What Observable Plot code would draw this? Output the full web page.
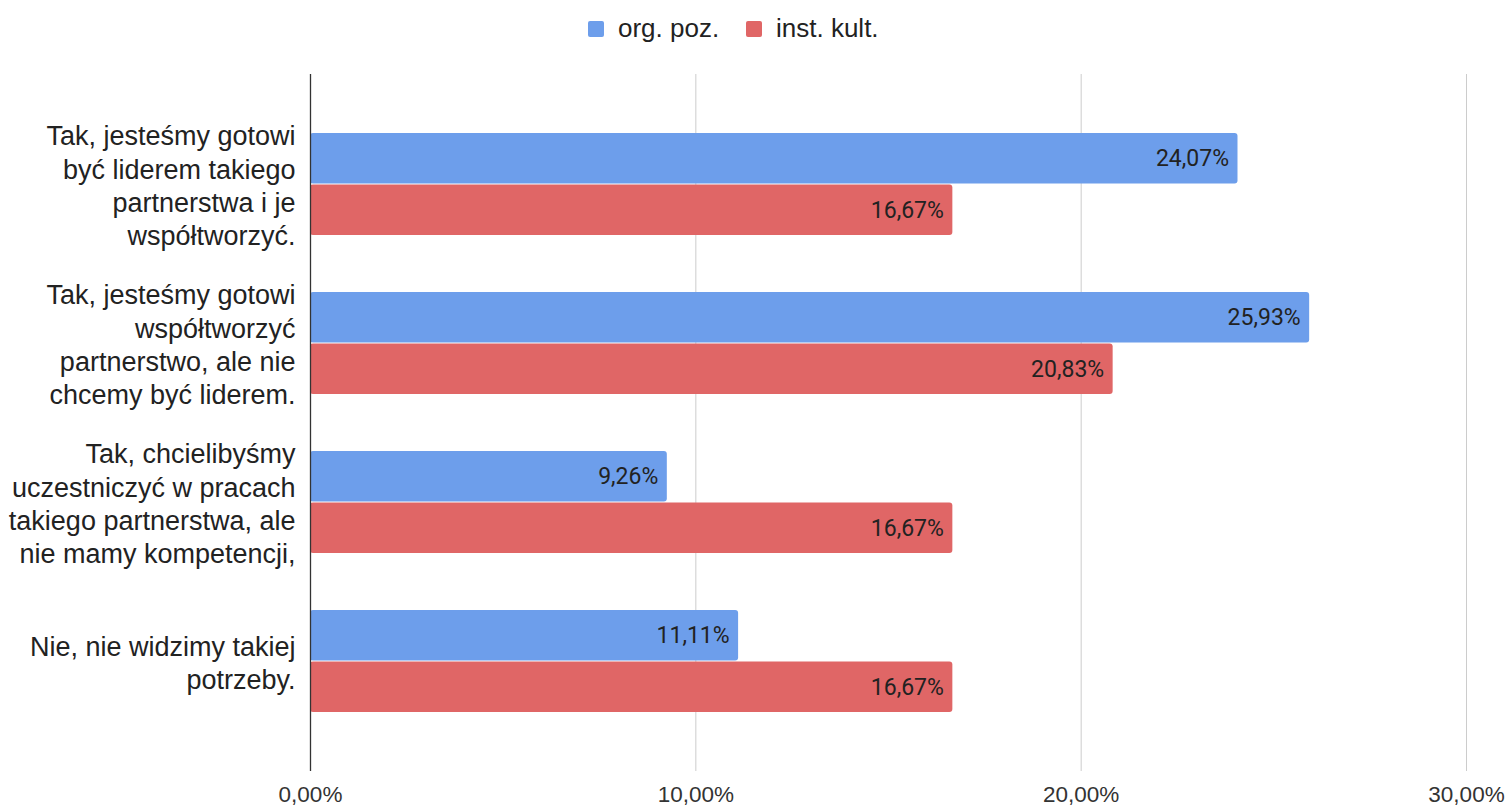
<!DOCTYPE html>
<html>
<head>
<meta charset="utf-8">
<script src="https://cdn.jsdelivr.net/npm/d3@7"></script>
<script src="https://cdn.jsdelivr.net/npm/@observablehq/plot@0.6"></script>
<style>
  html, body { margin: 0; padding: 0; background: #fff; }
  #legend { height: 60px; position: relative; font-family: "Liberation Sans", Arial, sans-serif; font-size: 26px; color: #222; }
  .item { position: absolute; top: 13px; display: flex; align-items: center; }
  .sw { width: 16px; height: 16px; border-radius: 2px; margin-right: 14px; }
</style>
</head>
<body>
<div id="legend"></div>
<div id="chart"></div>
<script>
const categories = ["A", "B", "C", "D"];
const categoryLabels = [
  "Tak, jesteśmy gotowi\nbyć liderem takiego\npartnerstwa i je\nwspółtworzyć.",
  "Tak, jesteśmy gotowi\nwspółtworzyć\npartnerstwo, ale nie\nchcemy być liderem.",
  "Tak, chcielibyśmy\nuczestniczyć w pracach\ntakiego partnerstwa, ale\nnie mamy kompetencji,",
  "Nie, nie widzimy takiej\npotrzeby."
];
const seriesNames = ["org. poz.", "inst. kult."];
const seriesColors = ["#6d9eeb", "#e06666"];
const orgValues = [0.2407, 0.2593, 0.0926, 0.1111];
const instValues = [0.1667, 0.2083, 0.1667, 0.1667];
const xTicks = [0, 0.1, 0.2, 0.3];

const fmt = v => (v * 100).toFixed(2).replace(".", ",") + "%";
const org = categories.map((c, i) => ({category: c, value: orgValues[i]}));
const inst = categories.map((c, i) => ({category: c, value: instValues[i]}));
const labelRows = categories.map((c, i) => ({category: c, label: categoryLabels[i]}));

// legend
const legend = document.getElementById("legend");
const legendLefts = [588, 746];
seriesNames.forEach((s, i) => {
  const it = document.createElement("div");
  it.className = "item";
  it.style.left = legendLefts[i] + "px";
  it.innerHTML = `<div class="sw" style="background:${seriesColors[i]}"></div><span>${s}</span>`;
  legend.appendChild(it);
});

const half = 51.5;
const quarter = 25.7;

const chart = Plot.plot({
  width: 1510,
  height: 749,
  marginTop: 14,
  marginBottom: 38,
  marginLeft: 310,
  marginRight: 44,
  style: {fontFamily: "'Liberation Sans', Arial, sans-serif", background: "#fff", color: "#222"},
  x: {domain: [0, 0.3], axis: null},
  y: {domain: categories, paddingInner: 0.36, paddingOuter: 0.36, axis: null},
  marks: [
    Plot.ruleX([0.1, 0.2, 0.3], {stroke: "#cccccc", strokeWidth: 1}),
    Plot.barX(org, {x: "value", y: "category", fill: seriesColors[0], insetBottom: half, rx: 3}),
    Plot.barX(inst, {x: "value", y: "category", fill: seriesColors[1], insetTop: half, rx: 3}),
    Plot.ruleX([0], {stroke: "#333333", strokeWidth: 1.3}),
    Plot.text(org, {x: "value", y: "category", text: d => fmt(d.value), dy: -quarter, dx: -9, textAnchor: "end", fontSize: 23, fontFamily: "Roboto", fill: "#222"}),
    Plot.text(inst, {x: "value", y: "category", text: d => fmt(d.value), dy: quarter, dx: -9, textAnchor: "end", fontSize: 23, fontFamily: "Roboto", fill: "#222"}),
    Plot.text(labelRows, {x: () => 0, y: "category", text: "label", dx: -15, textAnchor: "end", fontSize: 27, lineHeight: 1.23, fill: "#222"}),
    Plot.text(xTicks, {x: d => d, frameAnchor: "bottom", lineAnchor: "top", dy: 15, text: d => fmt(d), fontSize: 22.5, fill: "#333"})
  ]
});
document.getElementById("chart").appendChild(chart);
</script>
</body>
</html>
